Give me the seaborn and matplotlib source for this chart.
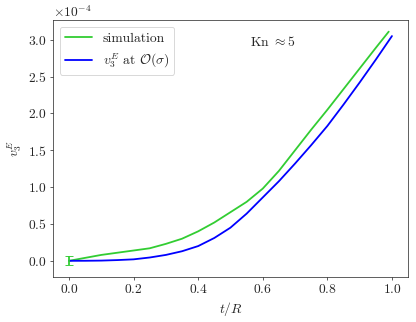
import numpy as np
import pandas as pd
import matplotlib
matplotlib.use('Agg')
import matplotlib.pyplot as plt
import seaborn as sns

# simulation (green), values in units of 1e-4
t_sim = [0, 0.05, 0.1, 0.15, 0.2, 0.25, 0.3, 0.35, 0.4, 0.45, 0.5, 0.55,
         0.6, 0.65, 0.7, 0.75, 0.8, 0.85, 0.9, 0.95, 0.99]
v_sim = [0, 0.04, 0.08, 0.11, 0.14, 0.17, 0.23, 0.30, 0.40, 0.52, 0.66, 0.80,
         0.98, 1.22, 1.50, 1.78, 2.05, 2.33, 2.61, 2.89, 3.11]
err0 = 0.06  # error bar at t=0

# first order theory (blue)
t_th = [0, 0.05, 0.1, 0.15, 0.2, 0.25, 0.3, 0.35, 0.4, 0.45, 0.5, 0.55,
        0.6, 0.65, 0.7, 0.75, 0.8, 0.85, 0.9, 0.95, 1.0]
v_th = [0, 0.0005, 0.003, 0.01, 0.02, 0.045, 0.08, 0.13, 0.2, 0.31, 0.45, 0.64,
        0.86, 1.08, 1.32, 1.57, 1.83, 2.12, 2.42, 2.73, 3.05]

sns.set_style('ticks')
plt.rcParams['font.family'] = ['serif']
plt.rcParams['font.serif'] = ['cmr10', 'DejaVu Serif']
plt.rcParams['mathtext.fontset'] = 'cm'
plt.rcParams['axes.formatter.use_mathtext'] = True
plt.rcParams['font.size'] = 15

df_sim = pd.DataFrame({'t': t_sim, 'v': np.array(v_sim) * 1e-4})
df_th = pd.DataFrame({'t': t_th, 'v': np.array(v_th) * 1e-4})

fig, ax = plt.subplots(figsize=(6.4, 4.954), dpi=65)
fig.subplots_adjust(left=0.127, right=0.981, top=0.938, bottom=0.14)

sns.lineplot(data=df_sim, x='t', y='v', color='limegreen', lw=2,
             label='simulation', ax=ax)
sns.lineplot(data=df_th, x='t', y='v', color='blue', lw=2,
             label=r'$v_3^E$ at $\mathcal{O}(\sigma)$', ax=ax)
ax.errorbar([t_sim[0]], [v_sim[0] * 1e-4], yerr=[err0 * 1e-4], color='limegreen',
            capsize=4, lw=2, fmt='none')

ax.text(0.56, 2.97e-4, r'Kn $\approx 5$', fontsize=15, va='center')
ax.set_xlabel(r'$t/R$', fontsize=15)
ax.set_ylabel(r'$v_3^E$', fontsize=15)
ax.set_xticks([0, 0.2, 0.4, 0.6, 0.8, 1.0])
ax.set_yticks(np.arange(0, 3.01, 0.5) * 1e-4)
ax.ticklabel_format(axis='y', style='sci', scilimits=(0, 0))
for s in ['top', 'right']:
    ax.spines[s].set_visible(True)
ax.legend(loc='upper left', fontsize=15)
fig.savefig('out.png', dpi=65)
